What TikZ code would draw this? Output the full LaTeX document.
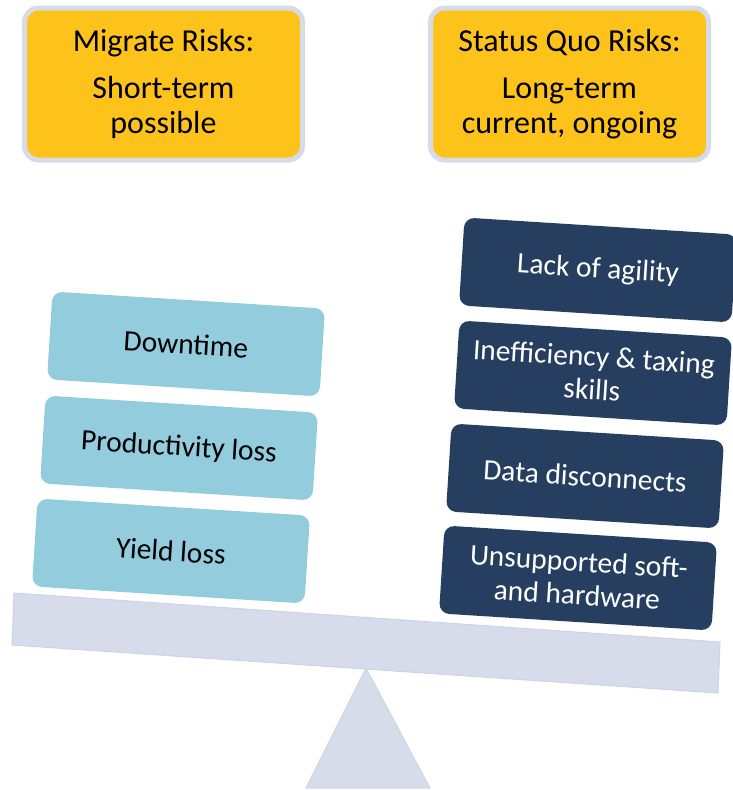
\documentclass[tikz,border=0pt]{standalone}
\usepackage{fontspec}
\setmainfont{Carlito}
\usepackage{xcolor}
\usetikzlibrary{positioning}
\definecolor{riskgold}{HTML}{FEC31A}
\definecolor{framegray}{HTML}{D5DCE8}
\definecolor{migblue}{HTML}{93CDDD}
\definecolor{quonavy}{HTML}{263F60}
\definecolor{beamgray}{HTML}{D6DCEA}

\tikzset{
  header/.style={rounded corners=14pt, fill=riskgold, draw=framegray, line width=5pt,
    minimum width=278pt, minimum height=152pt, align=center,
    font=\fontsize{32}{35}\selectfont},
  migbox/.style={rounded corners=10pt, fill=migblue, minimum width=273pt, minimum height=88pt,
    rotate=-3.6, align=center, font=\fontsize{29.5}{33}\selectfont},
  quobox/.style={migbox, fill=quonavy, text=white},
}

\begin{document}
\begin{tikzpicture}[x=1pt, y=-1pt]
    \useasboundingbox (0,0) rectangle (733,790);
    % the two headings
    \node[header] (migrate) at (163.5,84) {Migrate Risks:\\[12pt] Short-term\\possible};
    \node[header] (statusquo) at (569.5,84) {Status Quo Risks:\\[12pt] Long-term\\current, ongoing};
    % fulcrum and tilted beam
    \fill[beamgray, draw=beamgray!92!black!40!beamgray, line width=1pt] (366,668) -- (430,788) -- (306,788) -- cycle;
    \filldraw[fill=beamgray, draw=beamgray!85!blue!30!beamgray, line width=1pt] (14,593) -- (720,642) -- (718,693) -- (12,645) -- cycle;
    % light side
    \node[migbox] (downtime) at (186,344) {Downtime};
    \node[migbox] (prodloss) at (179,448) {Productivity loss};
    \node[migbox] (yieldloss) at (171,551) {Yield loss};
    % heavy side
    \node[quobox] (agility) at (598,270) {Lack of agility};
    \node[quobox] (taxing) at (593,373) {Inefficiency \& taxing\\skills};
    \node[quobox] (datadis) at (585,476) {Data disconnects};
    \node[quobox] (unsupp) at (578,578) {Unsupported soft-\\and hardware};
\end{tikzpicture}
\end{document}
